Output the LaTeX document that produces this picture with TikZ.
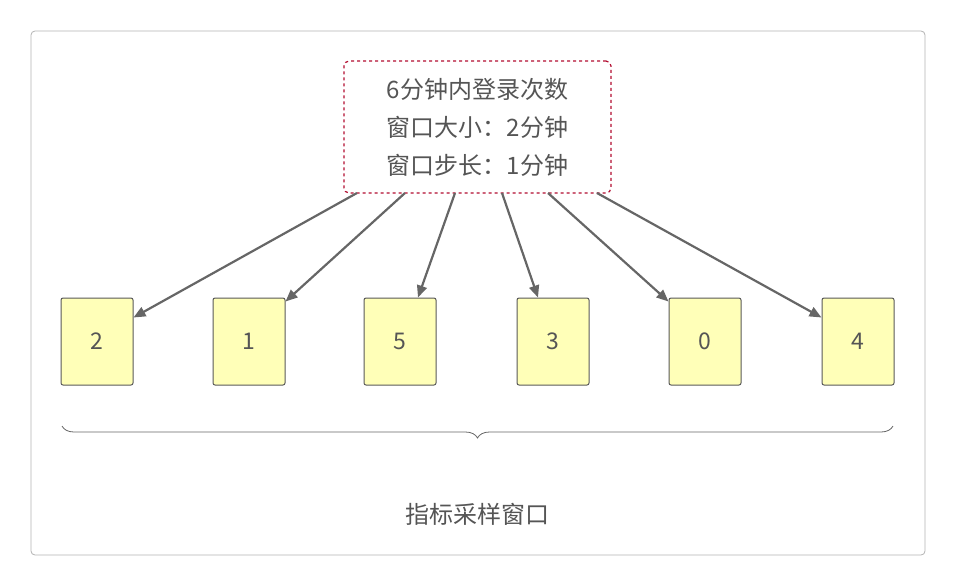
\documentclass[tikz,border=0pt]{standalone}
\usepackage{fontspec}
\setmainfont{Noto Sans CJK SC}
\usetikzlibrary{arrows.meta,decorations.pathreplacing}
\definecolor{txt}{HTML}{555555}
\definecolor{boxfill}{HTML}{FFFFB8}
\definecolor{dred}{HTML}{B20D30}
\begin{document}
\begin{tikzpicture}[x=1pt,y=-1pt,
  cell/.style={draw=black!65,line width=1pt,fill=boxfill,rounded corners=2pt,minimum width=72pt,minimum height=87pt,inner sep=0pt,font=\fontsize{23}{23}\selectfont,text=txt},
  arr/.style={draw=black!60,line width=2.2pt,-{Triangle[length=12pt,width=10pt]}}]
\useasboundingbox (0,0) rectangle (956,587);
\node[draw=black!30,rounded corners=4pt,minimum width=894pt,minimum height=524pt,line width=0.8pt] (frame) at (478,293) {};
\node[draw=dred,dashed,line width=1.2pt,rounded corners=5pt,minimum width=267pt,minimum height=132pt,align=center,text=txt,font=\fontsize{24}{38}\selectfont] (top) at (477.5,127) {6分钟内登录次数\\窗口大小：2分钟\\窗口步长：1分钟};
\foreach \i/\x/\v in {1/97/2,2/249/1,3/400/5,4/553/3,5/705/0,6/858/4}
  \node[cell] (c\i) at (\x,341.5) {\v};
\coordinate (s1) at (357,193); \coordinate (s2) at (405,193); \coordinate (s3) at (455,193);
\coordinate (s4) at (502,193); \coordinate (s5) at (548,193); \coordinate (s6) at (597,193);
\draw[arr] (s1) -- ([shift={(0,20)}]c1.north east);
\draw[arr] (s2) -- ([shift={(0,4)}]c2.north east);
\draw[arr] (s3) -- ([shift={(18,0)}]c3.north);
\draw[arr] (s4) -- ([shift={(-15,0)}]c4.north);
\draw[arr] (s5) -- ([shift={(0,4)}]c5.north west);
\draw[arr] (s6) -- ([shift={(0,20)}]c6.north west);
\coordinate (b1) at (62,426); \coordinate (b2) at (893,426);
\draw[black!60,line width=0.8pt,decoration={brace,mirror,amplitude=12pt},decorate] (b1) -- (b2);
\node[text=txt,font=\fontsize{24}{24}\selectfont] (lab) at (477,514) {指标采样窗口};
\end{tikzpicture}
\end{document}
